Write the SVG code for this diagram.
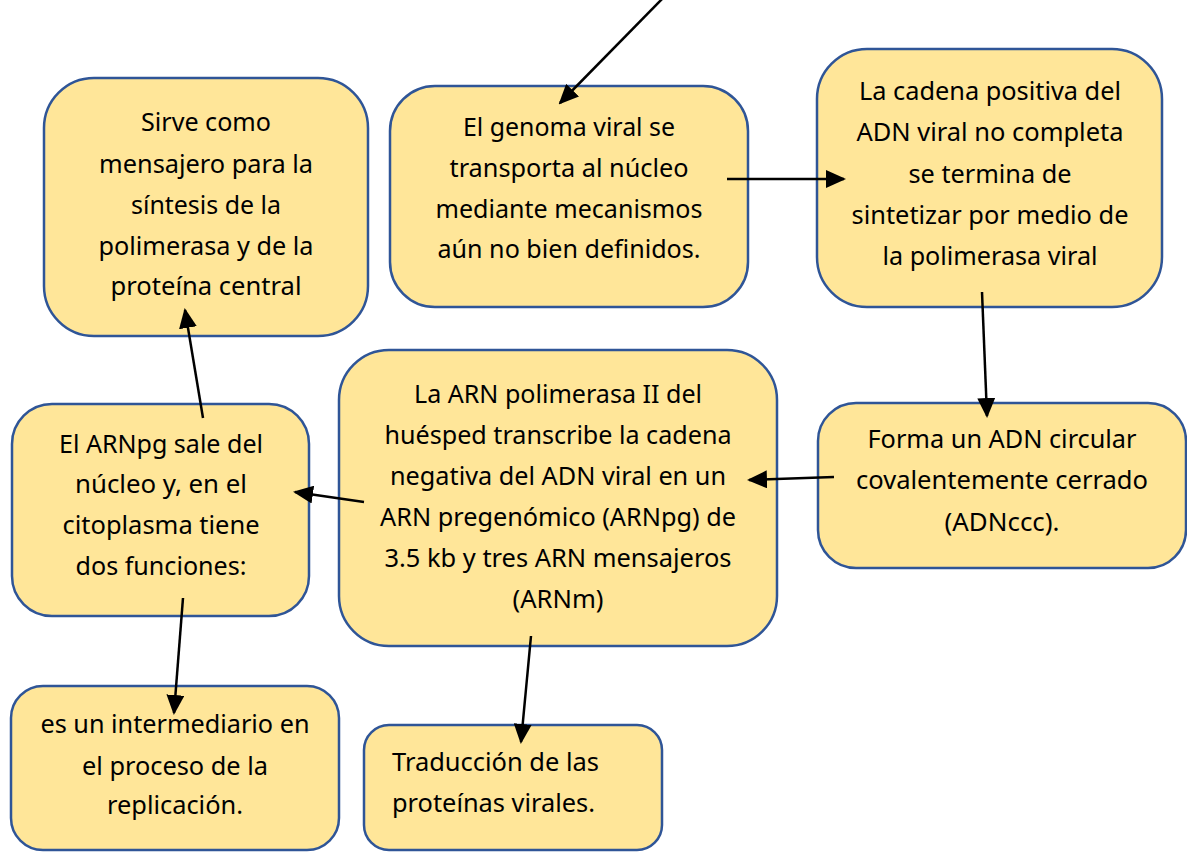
<svg xmlns="http://www.w3.org/2000/svg" width="1187" height="852" viewBox="0 0 1187 852">
<style>
.box{fill:#FFE699;stroke:#2F5597;stroke-width:2.5}
.t{font-family:"Noto Sans","Open Sans",sans-serif;font-size:25px;fill:#000;text-anchor:middle}
.tl{font-family:"Noto Sans","Open Sans",sans-serif;font-size:25px;fill:#000;text-anchor:start}
.c{stroke:#000;stroke-width:2.5;fill:none;marker-end:url(#ah)}
</style>
<defs>
<marker id="ah" markerUnits="userSpaceOnUse" markerWidth="20" markerHeight="18" viewBox="0 0 20 18" refX="18" refY="9" orient="auto">
<path d="M0,0 L20,9 L0,18 z" fill="#000"/>
</marker>
</defs>
<rect width="1187" height="852" fill="#fff"/>
<g id="n1">
<rect class="box" x="44" y="78" width="324" height="258" rx="50"/>
<text class="t" x="206" y="131" textLength="130" lengthAdjust="spacingAndGlyphs">Sirve como</text>
<text class="t" x="206" y="173" textLength="214" lengthAdjust="spacingAndGlyphs">mensajero para la</text>
<text class="t" x="206" y="214" textLength="150" lengthAdjust="spacingAndGlyphs">síntesis de la</text>
<text class="t" x="206" y="255" textLength="215" lengthAdjust="spacingAndGlyphs">polimerasa y de la</text>
<text class="t" x="206" y="295" textLength="191" lengthAdjust="spacingAndGlyphs">proteína central</text>
</g>
<g id="n2">
<rect class="box" x="390" y="86" width="358" height="221" rx="45"/>
<text class="t" x="569" y="136" textLength="212" lengthAdjust="spacingAndGlyphs">El genoma viral se</text>
<text class="t" x="569" y="177" textLength="239" lengthAdjust="spacingAndGlyphs">transporta al núcleo</text>
<text class="t" x="569" y="218" textLength="267" lengthAdjust="spacingAndGlyphs">mediante mecanismos</text>
<text class="t" x="569" y="258" textLength="263" lengthAdjust="spacingAndGlyphs">aún no bien definidos.</text>
</g>
<g id="n3">
<rect class="box" x="817" y="49" width="345" height="258" rx="50"/>
<text class="t" x="990" y="100" textLength="262" lengthAdjust="spacingAndGlyphs">La cadena positiva del</text>
<text class="t" x="990" y="141" textLength="267" lengthAdjust="spacingAndGlyphs">ADN viral no completa</text>
<text class="t" x="990" y="183" textLength="163" lengthAdjust="spacingAndGlyphs">se termina de</text>
<text class="t" x="990" y="224" textLength="277" lengthAdjust="spacingAndGlyphs">sintetizar por medio de</text>
<text class="t" x="990" y="265" textLength="215" lengthAdjust="spacingAndGlyphs">la polimerasa viral</text>
</g>
<g id="n4">
<rect class="box" x="818" y="403" width="368" height="165" rx="38"/>
<text class="t" x="1002" y="448" textLength="269" lengthAdjust="spacingAndGlyphs">Forma un ADN circular</text>
<text class="t" x="1002" y="489" textLength="292" lengthAdjust="spacingAndGlyphs">covalentemente cerrado</text>
<text class="t" x="1002" y="531" textLength="115" lengthAdjust="spacingAndGlyphs">(ADNccc).</text>
</g>
<g id="n5">
<rect class="box" x="339" y="350" width="438" height="296" rx="50"/>
<text class="t" x="558" y="403" textLength="288" lengthAdjust="spacingAndGlyphs">La ARN polimerasa II del</text>
<text class="t" x="558" y="444" textLength="347" lengthAdjust="spacingAndGlyphs">huésped transcribe la cadena</text>
<text class="t" x="558" y="485" textLength="336" lengthAdjust="spacingAndGlyphs">negativa del ADN viral en un</text>
<text class="t" x="558" y="526" textLength="356" lengthAdjust="spacingAndGlyphs">ARN pregenómico (ARNpg) de</text>
<text class="t" x="558" y="567" textLength="347" lengthAdjust="spacingAndGlyphs">3.5 kb y tres ARN mensajeros</text>
<text class="t" x="558" y="608" textLength="91" lengthAdjust="spacingAndGlyphs">(ARNm)</text>
</g>
<g id="n6">
<rect class="box" x="12" y="404" width="297" height="212" rx="40"/>
<text class="t" x="161" y="453" textLength="204" lengthAdjust="spacingAndGlyphs">El ARNpg sale del</text>
<text class="t" x="161" y="493" textLength="172" lengthAdjust="spacingAndGlyphs">núcleo y, en el</text>
<text class="t" x="161" y="534" textLength="197" lengthAdjust="spacingAndGlyphs">citoplasma tiene</text>
<text class="t" x="161" y="575" textLength="171" lengthAdjust="spacingAndGlyphs">dos funciones:</text>
</g>
<g id="n7">
<rect class="box" x="11" y="686" width="328" height="164" rx="32"/>
<text class="t" x="175" y="733" textLength="269" lengthAdjust="spacingAndGlyphs">es un intermediario en</text>
<text class="t" x="175" y="775" textLength="186" lengthAdjust="spacingAndGlyphs">el proceso de la</text>
<text class="t" x="175" y="814" textLength="136" lengthAdjust="spacingAndGlyphs">replicación.</text>
</g>
<g id="n8">
<rect class="box" x="364" y="725" width="298" height="125" rx="25"/>
<text class="tl" x="392" y="771" textLength="207" lengthAdjust="spacingAndGlyphs">Traducción de las</text>
<text class="tl" x="392" y="812" textLength="203" lengthAdjust="spacingAndGlyphs">proteínas virales.</text>
</g>
<g id="connectors">
<line class="c" x1="663" y1="-2" x2="560" y2="103"/>
<line class="c" x1="727" y1="179" x2="844" y2="179"/>
<line class="c" x1="982" y1="292" x2="987" y2="416"/>
<line class="c" x1="834" y1="477" x2="749" y2="480"/>
<line class="c" x1="364" y1="502" x2="295" y2="492"/>
<line class="c" x1="203" y1="418" x2="185" y2="310"/>
<line class="c" x1="183" y1="598" x2="174" y2="713"/>
<line class="c" x1="531" y1="636" x2="521" y2="742"/>
</g>
</svg>
